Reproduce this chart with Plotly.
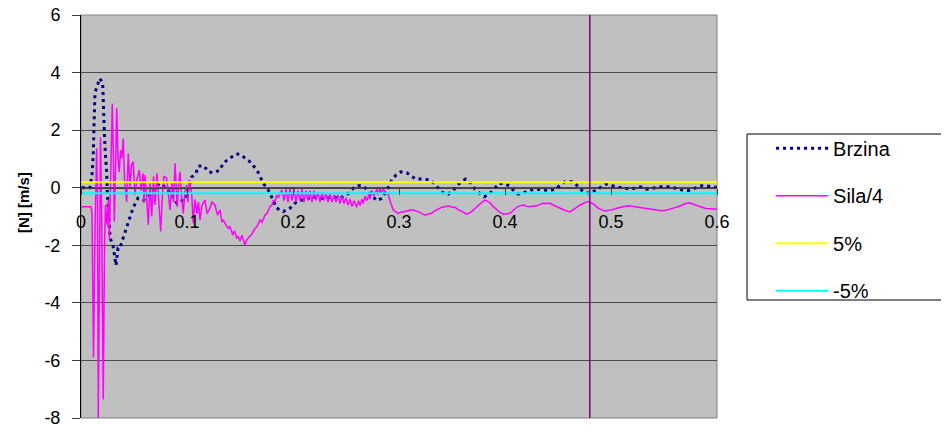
import plotly.graph_objects as go

# ---- data ----
brzina_t = [0.0007, 0.0085, 0.0104, 0.0116, 0.0123, 0.0132, 0.0154, 0.0179, 0.0205, 0.0210,
            0.0220, 0.0229, 0.0242, 0.0248, 0.0261, 0.0274, 0.0302, 0.0330, 0.0349, 0.0368,
            0.0384, 0.0415, 0.0446, 0.0491, 0.0538, 0.0588, 0.0651, 0.0698, 0.0745, 0.0802,
            0.0856, 0.0903, 0.0934, 0.0972, 0.1028, 0.1044, 0.1085, 0.1107, 0.1160, 0.1201,
            0.1248, 0.1311, 0.1342, 0.1380, 0.1412, 0.1462, 0.1500, 0.1547, 0.1594, 0.1642,
            0.1673, 0.1720, 0.1767, 0.1799, 0.1846, 0.1908, 0.1972, 0.2003, 0.2035, 0.2082,
            0.2144, 0.2192, 0.2239, 0.2318, 0.2380, 0.2443, 0.2522, 0.2569, 0.2616, 0.2663,
            0.2720, 0.2790, 0.2837, 0.2899, 0.2931, 0.2972, 0.3016, 0.3073, 0.3110, 0.3160,
            0.3229, 0.3292, 0.3340, 0.3377, 0.3412, 0.3465, 0.3512, 0.3544, 0.3592, 0.3629,
            0.3679, 0.3717, 0.3764, 0.3805, 0.3852, 0.3890, 0.3922, 0.3946, 0.3993, 0.4041,
            0.4078, 0.4125, 0.4189, 0.4242, 0.4299, 0.4361, 0.4425, 0.4481, 0.4519, 0.4566,
            0.4629, 0.4676, 0.4708, 0.4755, 0.4802, 0.4849, 0.4912, 0.4959, 0.5012, 0.5078,
            0.5132, 0.5210, 0.5280, 0.5337, 0.5406, 0.5469, 0.5557, 0.5613, 0.5673, 0.5729,
            0.5792, 0.5856, 0.5903, 0.5950, 0.5997]
brzina_v = [0.0, 0.0, 0.44, 1.13, 2.2, 3.3, 3.56, 3.8, 3.6, 2.76,
            1.94, 1.24, 0.55, -0.15, -0.95, -1.74, -2.0, -2.7, -2.1, -2.1,
            -1.9, -1.55, -1.2, -0.7, -0.36, -0.43, -0.25, 0.0, 0.16, 0.0,
            -0.25, -0.53, -0.43, -0.46, 0.16, 0.37, 0.51, 0.75, 0.76, 0.55,
            0.52, 0.61, 0.86, 0.96, 1.06, 1.17, 1.16, 1.04, 0.9, 0.69,
            0.52, 0.15, -0.08, -0.33, -0.71, -0.83, -0.71, -0.6, -0.48, -0.43,
            -0.37, -0.31, -0.37, -0.37, -0.31, -0.37, -0.2, -0.02, 0.07, 0.06,
            -0.17, -0.45, -0.37, 0.01, 0.27, 0.44, 0.55, 0.52, 0.42, 0.3,
            0.3, 0.27, 0.13, -0.05, -0.17, -0.22, -0.1, 0.08, 0.21, 0.3,
            0.15, -0.05, -0.2, -0.31, -0.22, -0.06, 0.07, 0.15, 0.15, 0.06,
            -0.08, -0.22, -0.16, -0.08, -0.05, -0.08, -0.1, -0.03, 0.08, 0.21,
            0.21, 0.09, -0.05, -0.16, -0.2, -0.1, 0.03, 0.13, 0.07, 0.01,
            -0.03, -0.03, 0.03, -0.05, -0.02, 0.03, 0.03, -0.03, -0.08, -0.1,
            -0.02, 0.07, 0.06, 0.03, 0.01]

sila_t = [0.0, 0.0094, 0.0104, 0.0118, 0.0132, 0.0148, 0.0156, 0.0163, 0.0175, 0.0184,
          0.0195, 0.0210, 0.0222, 0.0231, 0.0245, 0.0259, 0.0267, 0.0283, 0.0295, 0.0307,
          0.0314, 0.0325, 0.0337, 0.0349, 0.0361, 0.0373, 0.0384, 0.0399, 0.0410, 0.0431,
          0.0446, 0.0462, 0.0476, 0.0493, 0.0509, 0.0528, 0.0550, 0.0566, 0.0585, 0.0594,
          0.0604, 0.0618, 0.0635, 0.0651, 0.0667, 0.0684, 0.0698, 0.0717, 0.0731, 0.0752,
          0.0769, 0.0783, 0.0808, 0.0825, 0.0840, 0.0858, 0.0873, 0.0887, 0.0908, 0.0920,
          0.0934, 0.0948, 0.0965, 0.0981, 0.0997, 0.1009, 0.1022, 0.1044, 0.1059, 0.1075,
          0.1094, 0.1108, 0.1123, 0.1142, 0.1170, 0.1189, 0.1217, 0.1236, 0.1264, 0.1288,
          0.1311, 0.1330, 0.1342, 0.1368, 0.1390, 0.1406, 0.1431, 0.1448, 0.1469, 0.1484,
          0.1500, 0.1519, 0.1547, 0.1566, 0.1594, 0.1613, 0.1642, 0.1660, 0.1689, 0.1708,
          0.1736, 0.1755, 0.1783, 0.1802, 0.1814, 0.1830, 0.1846, 0.1863, 0.1893, 0.1915,
          0.1934, 0.1953, 0.1972, 0.1991, 0.2009, 0.2028, 0.2047, 0.2066, 0.2085, 0.2104,
          0.2123, 0.2142, 0.2160, 0.2179, 0.2198, 0.2217, 0.2236, 0.2255, 0.2274, 0.2292,
          0.2311, 0.2330, 0.2349, 0.2368, 0.2387, 0.2406, 0.2425, 0.2443, 0.2462, 0.2481,
          0.2500, 0.2519, 0.2538, 0.2557, 0.2575, 0.2601, 0.2618, 0.2632, 0.2651, 0.2663,
          0.2679, 0.2698, 0.2717, 0.2726, 0.2745, 0.2764, 0.2790, 0.2802, 0.2821, 0.2830,
          0.2849, 0.2868, 0.2899, 0.2922, 0.2946, 0.2962, 0.2993, 0.3019, 0.3057, 0.3085,
          0.3120, 0.3151, 0.3182, 0.3217, 0.3245, 0.3274, 0.3308, 0.3330, 0.3356, 0.3377,
          0.3403, 0.3434, 0.3465, 0.3491, 0.3528, 0.3557, 0.3592, 0.3613, 0.3639, 0.3660,
          0.3686, 0.3708, 0.3733, 0.3755, 0.3780, 0.3811, 0.3830, 0.3858, 0.3887, 0.3922,
          0.3953, 0.3984, 0.4019, 0.4047, 0.4075, 0.4110, 0.4142, 0.4173, 0.4198, 0.4236,
          0.4264, 0.4299, 0.4330, 0.4361, 0.4387, 0.4425, 0.4453, 0.4488, 0.4519, 0.4550,
          0.4575, 0.4613, 0.4642, 0.4676, 0.4708, 0.4738, 0.4764, 0.4786, 0.4811, 0.4833,
          0.4858, 0.4880, 0.4915, 0.4943, 0.4972, 0.5007, 0.5047, 0.5085, 0.5123, 0.5163,
          0.5198, 0.5242, 0.5283, 0.5321, 0.5358, 0.5399, 0.5434, 0.5478, 0.5519, 0.5557,
          0.5594, 0.5635, 0.5670, 0.5698, 0.5739, 0.5764, 0.5792, 0.5821, 0.5856, 0.5896,
          0.5934, 0.5972, 0.6000]
sila_v = [-0.66, -0.66, -0.9, -5.9, -1.5, 1.37, -0.5, -8.0, -2.5, 1.75,
          -1.0, -7.36, -2.0, -0.6, -1.3, -0.4, -1.8, 0.5, 2.92, 0.8,
          -1.18, 0.5, 2.76, 1.0, 0.55, 1.3, 1.02, 1.71, 0.3, -0.49,
          1.19, 0.0, 0.8, 0.9, -0.25, 0.3, 0.61, -0.1, 0.5, -0.53,
          0.44, -0.3, -1.29, 0.2, -1.0, 0.4, -0.6, 0.5, -0.3, -1.52,
          -0.2, 0.4, 0.33, -0.4, -0.77, 0.2, -0.5, 0.85, -0.66, 0.1,
          0.55, -0.3, -0.89, -0.1, 0.09, -0.5, 0.27, -0.19, -1.23, -0.4,
          -0.9, -0.5, -1.12, -0.6, -0.43, -0.9, -0.71, -0.5, -0.6, -0.95,
          -0.77, -1.2, -1.12, -1.3, -1.41, -1.35, -1.64, -1.5, -1.75, -1.7,
          -1.85, -1.65, -1.99, -1.8, -1.7, -1.6, -1.41, -1.35, -1.12, -1.2,
          -0.95, -0.9, -0.66, -0.6, -0.43, -0.5, -0.25, -0.35, -0.08, -0.45,
          -0.05, -0.5, -0.02, -0.45, -0.05, -0.5, -0.1, -0.45, -0.05, -0.5,
          -0.1, -0.45, -0.1, -0.5, -0.1, -0.45, -0.15, -0.5, -0.15, -0.45,
          -0.2, -0.5, -0.2, -0.5, -0.25, -0.5, -0.25, -0.55, -0.3, -0.55,
          -0.35, -0.6, -0.4, -0.65, -0.45, -0.68, -0.45, -0.62, -0.4, -0.55,
          -0.3, -0.45, -0.2, -0.4, -0.1, -0.3, -0.05, -0.25, -0.03, -0.2,
          -0.05, -0.14, -0.25, -0.54, -0.77, -0.82, -0.89, -0.85, -0.83, -0.8,
          -0.77, -0.8, -0.83, -0.9, -0.95, -0.92, -0.89, -0.82, -0.77, -0.72,
          -0.68, -0.66, -0.63, -0.67, -0.68, -0.75, -0.83, -0.88, -0.92, -0.88,
          -0.83, -0.75, -0.66, -0.6, -0.52, -0.43, -0.46, -0.52, -0.65, -0.77,
          -0.86, -0.92, -0.9, -0.89, -0.8, -0.68, -0.63, -0.6, -0.64, -0.66,
          -0.64, -0.63, -0.58, -0.54, -0.55, -0.54, -0.6, -0.66, -0.72, -0.77,
          -0.8, -0.84, -0.78, -0.68, -0.6, -0.54, -0.5, -0.48, -0.52, -0.56,
          -0.64, -0.71, -0.77, -0.81, -0.79, -0.77, -0.72, -0.68, -0.65, -0.63,
          -0.65, -0.68, -0.7, -0.71, -0.73, -0.75, -0.78, -0.8, -0.78, -0.75,
          -0.7, -0.66, -0.6, -0.56, -0.52, -0.56, -0.6, -0.64, -0.68, -0.72,
          -0.74, -0.75, -0.75]

limit_t = [0.0, 0.6]
limit_plus = [0.19, 0.19]
limit_minus = [-0.19, -0.19]
marker_t = [0.48, 0.48]
marker_v = [-8, 6]

x_ticks = [0, 0.1, 0.2, 0.3, 0.4, 0.5, 0.6]
x_tick_labels = ["0", "0.1", "0.2", "0.3", "0.4", "0.5", "0.6"]
y_ticks = [-8, -6, -4, -2, 0, 2, 4, 6]
y_tick_labels = ["-8", "-6", "-4", "-2", "0", "2", "4", "6"]

FONT = "Liberation Sans, Arial, sans-serif"

fig = go.Figure()
fig.add_trace(go.Scatter(x=brzina_t, y=brzina_v, mode="lines", name="Brzina",
                         legendgroup="a",
                         line=dict(color="#000080", width=3, dash="3px,4px")))
fig.add_trace(go.Scatter(x=sila_t, y=sila_v, mode="lines", name="Sila/4",
                         legendgroup="b",
                         line=dict(color="#FF00FF", width=1.5)))
fig.add_trace(go.Scatter(x=limit_t, y=limit_plus, mode="lines", name="5%",
                         legendgroup="c",
                         line=dict(color="#FFFF00", width=2)))
fig.add_trace(go.Scatter(x=limit_t, y=limit_minus, mode="lines", name="-5%",
                         legendgroup="d",
                         line=dict(color="#00FFFF", width=2)))
fig.add_trace(go.Scatter(x=marker_t, y=marker_v, mode="lines", showlegend=False,
                         line=dict(color="#800080", width=1.5)))

# The page body adds an 8px offset, so the figure is sized to fit the window.
fig.update_layout(
    width=941, height=418,
    margin=dict(l=73, r=232, t=7, b=8, autoexpand=False),
    paper_bgcolor="white",
    plot_bgcolor="#C0C0C0",
    font=dict(family=FONT, size=18, color="black"),
    showlegend=True,
    legend=dict(
        x=1.085, y=0.718, xanchor="left", yanchor="top",
        bgcolor="rgba(0,0,0,0)", borderwidth=0,
        traceorder="grouped", tracegroupgap=18.5,
        itemwidth=52,
        font=dict(family=FONT, size=20, color="black"),
    ),
    xaxis=dict(
        range=[0, 0.6], tickvals=x_ticks, ticktext=x_tick_labels,
        showgrid=False, zeroline=False, automargin=False,
        anchor="free", position=8 / 14,
        showline=True, linecolor="#404040", linewidth=1,
        ticks="outside", ticklen=6, tickcolor="#404040",
        ticklabelstandoff=12, ticklabeloverflow="allow",
        tickfont=dict(family=FONT, size=18, color="black"),
    ),
    yaxis=dict(
        range=[-8, 6], tickvals=y_ticks, ticktext=y_tick_labels,
        showgrid=True, gridcolor="#4a4a4a", gridwidth=1,
        zeroline=False, automargin=False,
        showline=True, linecolor="black", linewidth=1,
        ticks="outside", ticklen=8, tickcolor="#404040",
        ticklabelstandoff=8, ticklabeloverflow="allow",
        tickfont=dict(family=FONT, size=18, color="black"),
    ),
    shapes=[
        dict(type="rect", xref="paper", yref="paper", x0=0, x1=1, y0=0, y1=1,
             line=dict(color="#808080", width=1), layer="below"),
        dict(type="rect", xref="paper", yref="paper",
             x0=1.0472, x1=1.3632, y0=0.2928, y1=0.7047,
             line=dict(color="black", width=1), fillcolor="white", layer="below"),
    ],
    annotations=[
        dict(text="<b>[N] [m/s]</b>", xref="paper", yref="paper",
             x=-0.0896, y=0.5335, xanchor="center", yanchor="middle",
             textangle=-90, showarrow=False,
             font=dict(family=FONT, size=15, color="black")),
    ],
)

fig.write_html("out.html")
